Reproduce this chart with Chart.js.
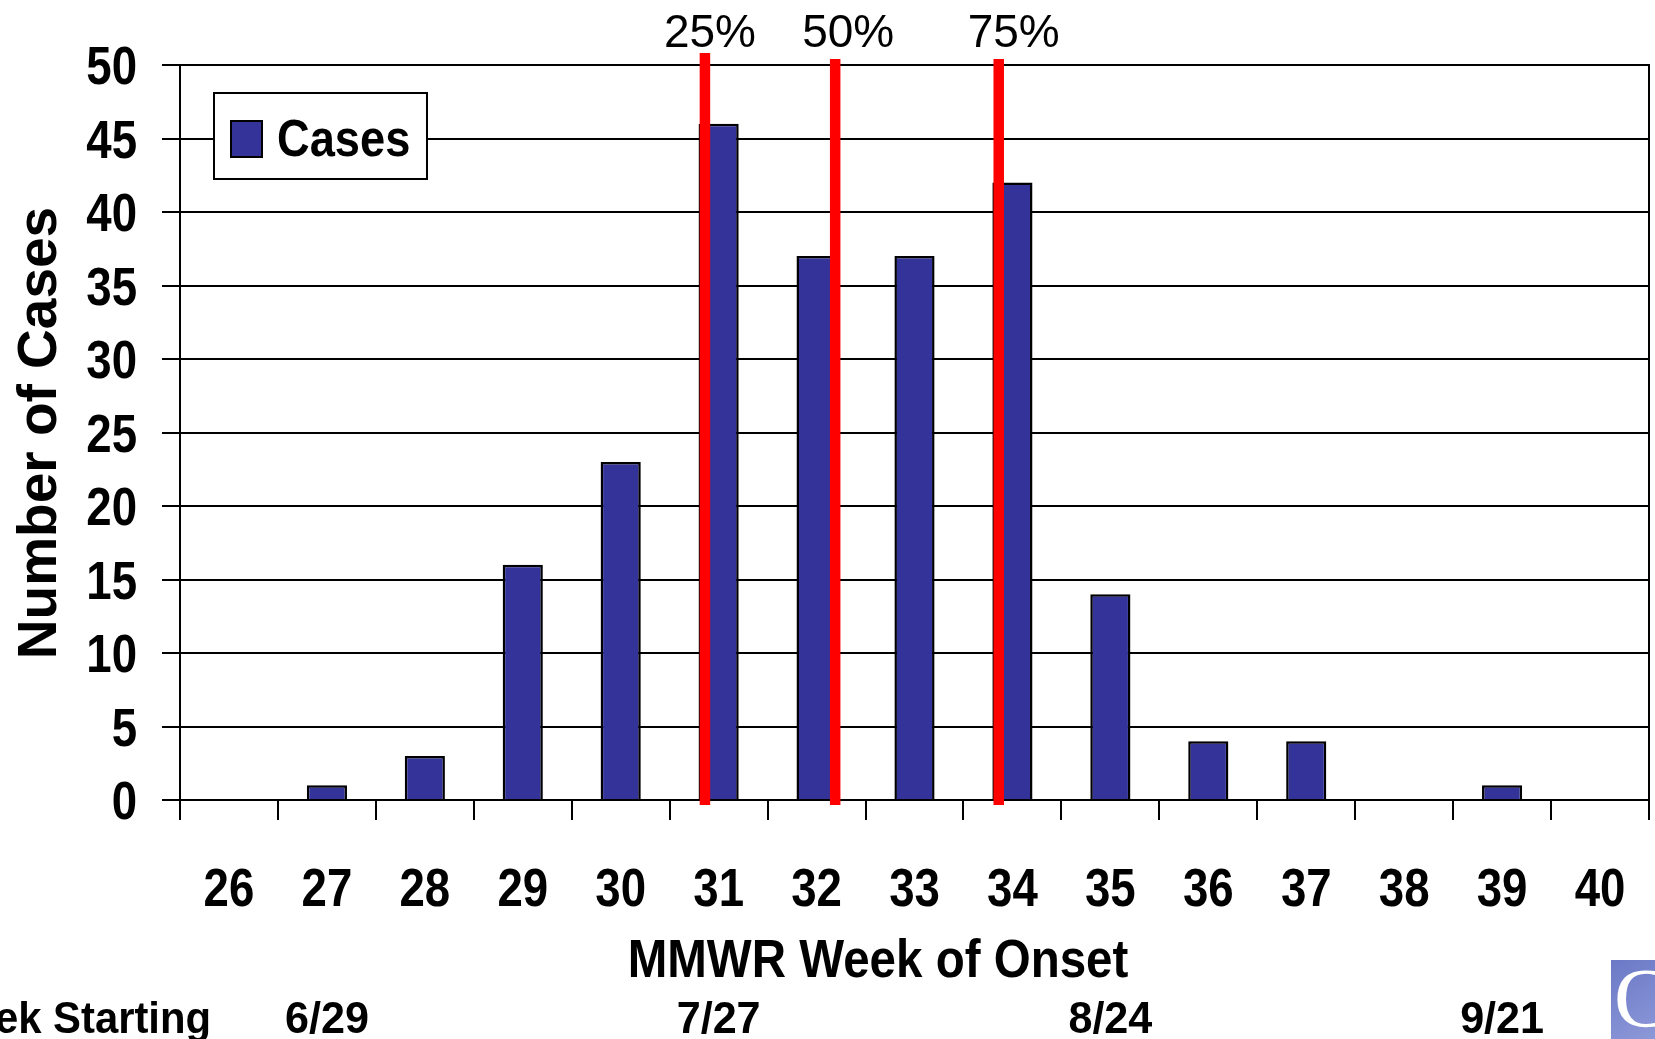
<!DOCTYPE html>
<html><head><meta charset="utf-8">
<script src="https://cdn.jsdelivr.net/npm/chart.js@4"></script>
<style>html,body{margin:0;padding:0;background:#fff;overflow:hidden}#wrap{width:1655px;height:1039px;position:relative}</style>
</head><body><div id="wrap"><canvas id="c" width="1655" height="1039"></canvas></div>
<script>
// ---- data ----
const weeks = ['26','27','28','29','30','31','32','33','34','35','36','37','38','39','40'];
const cases = [0, 1, 3, 16, 23, 46, 37, 37, 42, 14, 4, 4, 0, 1, 0];
const seriesName = 'Cases';
const yMax = 50, yStep = 5;
const quartileLabels = ['25%', '50%', '75%'];
const quartileWeeks = [30.86, 32.19, 33.86];
const quartileTop = [50.82, 50.41, 50.41];
const quartileBottom = -0.34;
const weekStartCats = ['27', '31', '35', '39'];
const weekStartDates = ['6/29', '7/27', '8/24', '9/21'];
const rowLabel = 'Week Starting';
const xTitle = 'MMWR Week of Onset';
const yTitle = 'Number of Cases';

const SANS = '"Liberation Sans", Arial, sans-serif';
const BAR = '#333399';
const quartileLabelShift = [5, 13, 15];

// draw text with horizontal condensing (Arial-Narrow-like look)
function txt(ctx, s, x, y, size, sx, align, weight) {
  ctx.save();
  ctx.font = (weight || 'bold') + ' ' + size + 'px ' + SANS;
  ctx.textAlign = align || 'center';
  ctx.textBaseline = 'alphabetic';
  ctx.translate(x, y);
  ctx.scale(sx, 1);
  ctx.fillText(s, 0, 0);
  ctx.restore();
}

const lineSets = quartileWeeks.map((w, i) => ({
  type: 'line',
  label: quartileLabels[i],
  data: [{x: w, y: quartileBottom}, {x: w, y: quartileTop[i]}],
  xAxisID: 'x2', yAxisID: 'y',
  borderColor: '#ff0000', borderWidth: 10.5, borderCapStyle: 'butt',
  pointRadius: 0, fill: false, clip: false, order: 0
}));

const decor = {
  id: 'decor',
  afterDatasetsDraw(chart) {
    const ctx = chart.ctx;
    const ds = chart.data.datasets[0];
    ctx.save();
    ctx.fillStyle = '#fff';
    ctx.fillRect(214, 93, 213, 86);
    ctx.strokeStyle = '#000'; ctx.lineWidth = 2;
    ctx.strokeRect(214, 93, 213, 86);
    ctx.fillStyle = ds.backgroundColor;
    ctx.fillRect(231, 121, 31, 36);
    ctx.strokeRect(231, 121, 31, 36);
    ctx.fillStyle = '#000';
    txt(ctx, ds.label, 277, 156, 52, 0.87, 'left');
    ctx.restore();
  },
  afterDraw(chart) {
    const ctx = chart.ctx;
    const x = chart.scales.x, x2 = chart.scales.x2, y = chart.scales.y;
    ctx.save();
    ctx.fillStyle = '#000';
    // tick labels
    x.ticks.forEach((t, i) => txt(ctx, x.getLabelForValue(t.value), x.getPixelForTick(i), 906, 53, 0.86, 'center'));
    y.ticks.forEach((t, i) => txt(ctx, t.label, 137, y.getPixelForTick(i) + 19, 53, 0.86, 'right'));
    // quartile labels
    quartileWeeks.forEach((w, i) => txt(ctx, quartileLabels[i], x2.getPixelForValue(w) + quartileLabelShift[i], 47, 46, 1, 'center', 'normal'));
    // x title
    txt(ctx, xTitle, 878, 977, 54, 0.88, 'center');
    // week starting row
    txt(ctx, rowLabel, 211, 1033, 44, 0.95, 'right');
    weekStartCats.forEach((c, i) => txt(ctx, weekStartDates[i], x.getPixelForValue(weeks.indexOf(c)), 1033, 44, 0.98, 'center'));
    // y title
    ctx.save();
    ctx.translate(56, 433);
    ctx.rotate(-Math.PI / 2);
    ctx.font = 'bold 55px ' + SANS;
    ctx.textAlign = 'center'; ctx.textBaseline = 'alphabetic';
    ctx.fillText(yTitle, 0, 0);
    ctx.restore();
    // logo fragment
    const g = ctx.createLinearGradient(1611, 960, 1655, 1039);
    g.addColorStop(0, '#6b79c6'); g.addColorStop(1, '#8d98d8');
    ctx.fillStyle = g;
    ctx.fillRect(1611, 960, 44, 79);
    ctx.fillStyle = '#fff';
    ctx.font = '84px "Liberation Serif", serif';
    ctx.textAlign = 'left';
    ctx.fillText('C', 1614, 1027);
    ctx.restore();
  }
};

new Chart(document.getElementById('c'), {
  data: {
    labels: weeks,
    datasets: [{
      type: 'bar', label: seriesName, data: cases,
      backgroundColor: BAR, borderColor: '#000', borderWidth: 2.5,
      barPercentage: 0.41, categoryPercentage: 1, grouped: false, order: 1
    }, ...lineSets]
  },
  options: {
    responsive: false, animation: false, devicePixelRatio: 1,
    layout: { padding: { top: 65, right: 6, left: 0, bottom: 0 } },
    plugins: { legend: { display: false }, tooltip: { enabled: false } },
    scales: {
      x: {
        type: 'category', position: 'bottom', offset: true,
        grid: { offset: true, drawOnChartArea: false, drawTicks: true, tickLength: 20, color: '#000', lineWidth: 2 },
        border: { display: true, color: '#000', width: 2 },
        ticks: { display: false, autoSkip: false },
        afterFit: s => { s.height = 239; }
      },
      x2: { type: 'linear', display: false, min: 25.5, max: 40.5 },
      y: {
        position: 'left', min: 0, max: yMax,
        grid: { color: '#000', lineWidth: 2, tickLength: 18 },
        border: { display: true, color: '#000', width: 2 },
        ticks: { display: false, stepSize: yStep },
        afterFit: s => { s.width = 180; }
      },
      y2: {
        position: 'right', min: 0, max: yMax,
        grid: { drawOnChartArea: false, drawTicks: false },
        border: { display: true, color: '#000', width: 2 },
        ticks: { display: false },
        afterFit: s => { s.width = 0; }
      }
    }
  },
  plugins: [decor]
});
</script></body></html>
